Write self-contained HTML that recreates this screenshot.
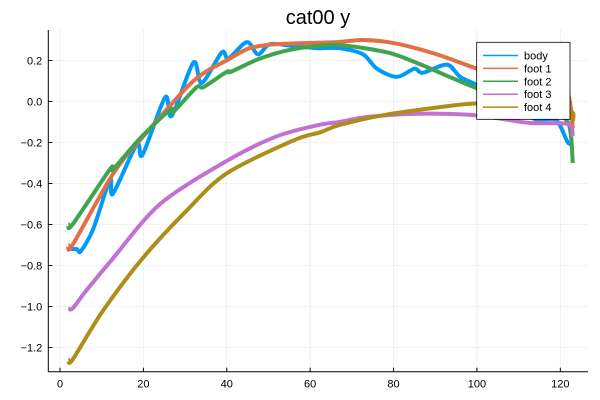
<!DOCTYPE html>
<html><head><meta charset="utf-8">
<style>
body{margin:0;background:#fff;}
svg{display:block;font-family:"Liberation Sans","DejaVu Sans",sans-serif;}
</style></head>
<body>
<svg id="chart" width="600" height="400" viewBox="0 0 600 400" xmlns="http://www.w3.org/2000/svg">
<rect width="600" height="400" fill="#fff"/>
<text x="318" y="24" font-size="20" text-anchor="middle" fill="#000">cat00 y</text>
<g id="grid"></g>
<g id="axes"></g>
<g id="series"></g>
<g id="legend"></g>
</svg>
<script>
const xTicks = [0, 20, 40, 60, 80, 100, 120];
const yTicks = [0.2, 0.0, -0.2, -0.4, -0.6, -0.8, -1.0, -1.2];
const yTickLabels = ["0.2", "0.0", "\u22120.2", "\u22120.4", "\u22120.6", "\u22120.8", "\u22121.0", "\u22121.2"];
const seriesNames = ["body", "foot 1", "foot 2", "foot 3", "foot 4"];
const bodyX = [2,4,5,8,12,12.7,18.4,19.8,25.2,26.8,32,34,38.8,40.4,44.8,47.5,50.4,56,62,67,72.7,76,80.8,85,87,92.8,96,100,105,110,114.4,119,121.8,123];
const bodyY = [-0.72,-0.72,-0.73,-0.62,-0.38,-0.45,-0.21,-0.26,0.02,-0.07,0.19,0.09,0.24,0.21,0.29,0.23,0.28,0.27,0.26,0.26,0.23,0.16,0.12,0.16,0.14,0.18,0.12,0.08,0.02,-0.04,-0.09,-0.09,-0.2,-0.2];
const foot1X = [2,3,12.8,20,32,40.8,45.5,52,66.4,72.7,80,90.4,100,110,118,121.8,123];
const foot1Y = [-0.70,-0.70,-0.35,-0.17,0.10,0.21,0.26,0.28,0.29,0.30,0.285,0.23,0.16,0.10,0.07,0.04,-0.13];
const foot2X = [2,3,12,12.8,19.2,26.4,27.2,32.8,34.4,40,41,48,56,66.4,78.4,86,94,100,108,116,121.8,123];
const foot2Y = [-0.60,-0.60,-0.33,-0.33,-0.18,-0.04,-0.05,0.07,0.07,0.145,0.145,0.21,0.255,0.275,0.24,0.185,0.115,0.065,0.01,-0.05,-0.10,-0.30];
const foot3X = [2,3,6,12.5,24,40,52,62,67,74,86,98,106,113,121.8,123];
const foot3Y = [-1.01,-1.01,-0.93,-0.77,-0.50,-0.29,-0.17,-0.115,-0.10,-0.075,-0.06,-0.065,-0.085,-0.105,-0.11,-0.17];
const foot4X = [2,3,10,19.6,30,40,56,62.4,67,78,94,100,110,122,123];
const foot4Y = [-1.26,-1.26,-1.03,-0.77,-0.54,-0.35,-0.19,-0.15,-0.115,-0.065,-0.02,-0.01,-0.01,-0.04,-0.1];
const colors = ["#009AFA","#E26F46","#3EA44E","#C271D2","#AC8E18"];

const NS="http://www.w3.org/2000/svg";
const X0=48.3, X1=588, Y0=30, Y1=371.7;
function sx(v){return 60 + v*(560.3-60)/120;}
function sy(v){return 101.5 - v*205;}
function mk(tag, attrs, parent){const e=document.createElementNS(NS,tag);for(const k in attrs)e.setAttribute(k,attrs[k]);parent.appendChild(e);return e;}
function smoothPath(P){
  let d='M'+P[0][0].toFixed(1)+','+P[0][1].toFixed(1);
  for(let i=0;i<P.length-1;i++){
    const p0=P[Math.max(0,i-1)],p1=P[i],p2=P[i+1],p3=P[Math.min(P.length-1,i+2)];
    const t=0.3;
    let c1x=p1[0]+(p2[0]-p0[0])*t/2*1.0, c1y=p1[1]+(p2[1]-p0[1])*t/2;
    let c2x=p2[0]-(p3[0]-p1[0])*t/2, c2y=p2[1]-(p3[1]-p1[1])*t/2;
    d+=' C'+c1x.toFixed(1)+','+c1y.toFixed(1)+' '+c2x.toFixed(1)+','+c2y.toFixed(1)+' '+p2[0].toFixed(1)+','+p2[1].toFixed(1);
  }
  return d;
}
const grid=document.getElementById('grid'), axes=document.getElementById('axes'), ser=document.getElementById('series'), leg=document.getElementById('legend');

xTicks.forEach(t=>{
  const g=mk('line',{x1:sx(t),x2:sx(t),y1:Y0,y2:Y1,stroke:'#000','stroke-opacity':0.1,'stroke-width':0.6},grid);
  
  
  const tk=mk('line',{x1:sx(t),x2:sx(t),y1:Y1,y2:Y1-4,stroke:'#000','stroke-width':1},axes);
  
  
  const tx=mk('text',{x:sx(t),y:Y1+16,'font-size':11,'text-anchor':'middle',fill:'#000'},axes);
  tx.textContent=t;
  
  
});
yTicks.forEach((t,i)=>{
  const g=mk('line',{x1:X0,x2:X1,y1:sy(t),y2:sy(t),stroke:'#000','stroke-opacity':0.1,'stroke-width':0.6},grid);
  
  
  const tk=mk('line',{x1:X0,x2:X0+4,y1:sy(t),y2:sy(t),stroke:'#000','stroke-width':1},axes);
  
  
  const tx=mk('text',{x:X0-6,y:sy(t)+4,'font-size':11,'text-anchor':'end',fill:'#000'},axes);
  tx.textContent=yTickLabels[i];
  
  
});
const xa=mk('line',{x1:X0,x2:X1,y1:Y1,y2:Y1,stroke:'#000','stroke-width':1},axes);


const ya=mk('line',{x1:X0,x2:X0,y1:Y0,y2:Y1,stroke:'#000','stroke-width':1},axes);



const allX=[bodyX,foot1X,foot2X,foot3X,foot4X], allY=[bodyY,foot1Y,foot2Y,foot3Y,foot4Y];
const sNames=['body-line','foot-1-line','foot-2-line','foot-3-line','foot-4-line'];
allX.forEach((xs,i)=>{
  const P=xs.map((x,j)=>[sx(x),sy(allY[i][j])]);
  const p=mk('path',{d:smoothPath(P),fill:'none',stroke:colors[i],'stroke-width':4,'stroke-linejoin':'round','stroke-linecap':'butt'},ser);
  
  
});

const box=mk('rect',{x:476.7,y:42.3,width:93.3,height:77,fill:'#fff',stroke:'#000','stroke-width':0.8},leg);


seriesNames.forEach((n,i)=>{
  const y=55.5+i*12.9;
  const l=mk('line',{x1:483,x2:518,y1:y,y2:y,stroke:colors[i],'stroke-width':1.5},leg);
  
  
  const t=mk('text',{x:524,y:y+4,'font-size':11,fill:'#000'},leg);
  t.textContent=n;
  
  
});
</script>
</body></html>
